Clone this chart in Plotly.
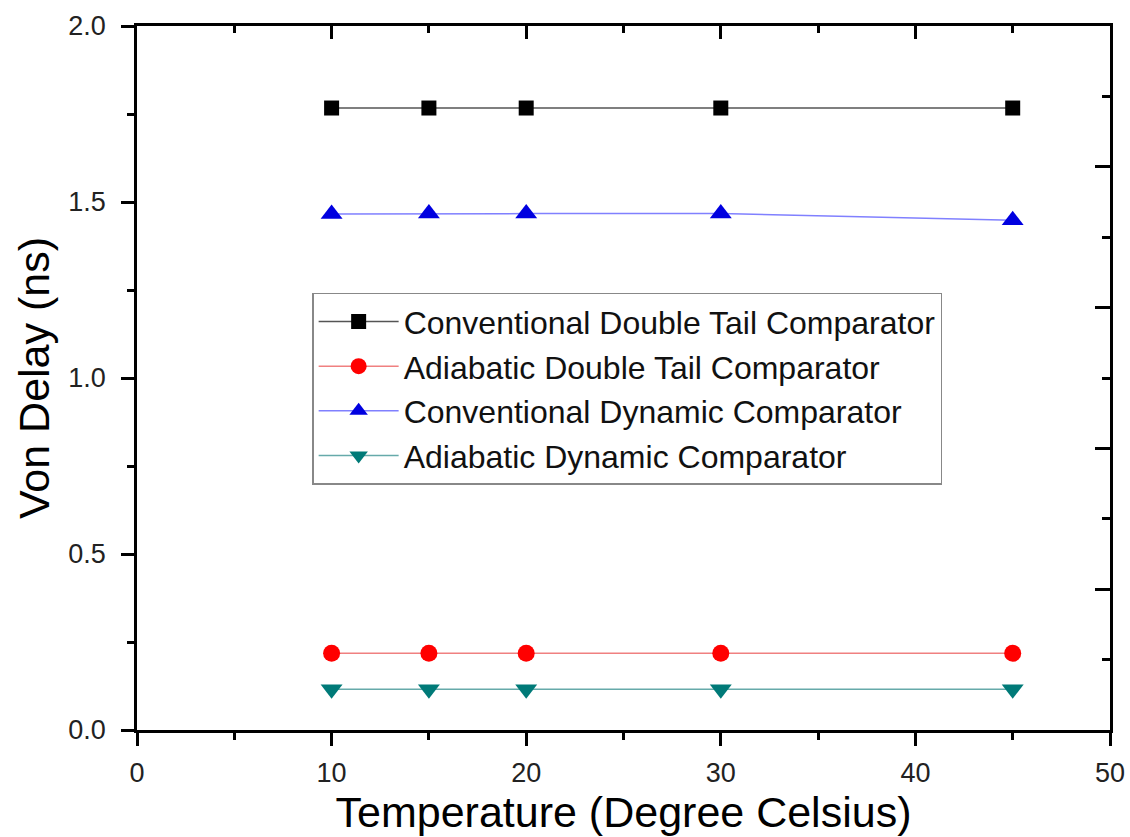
import plotly.graph_objects as go

temps = [10, 15, 20, 30, 45]
conv_double_tail = [1.767, 1.767, 1.767, 1.767, 1.767]
adia_double_tail = [0.218, 0.218, 0.218, 0.218, 0.218]
conv_dynamic = [1.466, 1.467, 1.467, 1.467, 1.448]
adia_dynamic = [0.116, 0.116, 0.116, 0.116, 0.116]

series_names = ["Conventional Double Tail Comparator",
                "Adiabatic Double Tail Comparator",
                "Conventional Dynamic Comparator",
                "Adiabatic Dynamic Comparator"]

FONT = "Liberation Sans, Arial, sans-serif"

fig = go.Figure()
fig.add_trace(go.Scatter(x=temps, y=conv_double_tail, name=series_names[0], mode="lines+markers",
                         line=dict(color="#555555", width=1.5),
                         marker=dict(symbol="square", size=15, color="black")))
fig.add_trace(go.Scatter(x=temps, y=adia_double_tail, name=series_names[1], mode="lines+markers",
                         line=dict(color="#f08080", width=1.5),
                         marker=dict(symbol="circle", size=17, color="red")))
fig.add_trace(go.Scatter(x=temps, y=conv_dynamic, name=series_names[2], mode="lines+markers",
                         line=dict(color="#8080ff", width=1.5),
                         marker=dict(symbol="triangle-up", size=19, color="#0000e0")))
fig.add_trace(go.Scatter(x=temps, y=adia_dynamic, name=series_names[3], mode="lines+markers",
                         line=dict(color="#66aaaa", width=1.5),
                         marker=dict(symbol="triangle-down", size=19, color="#007a78")))
# dummy trace to show mirrored top/right axes with inward ticks
fig.add_trace(go.Scatter(x=[None], y=[None], xaxis="x2", yaxis="y2", showlegend=False, hoverinfo="skip"))

fig.update_layout(
    width=1130, height=837,
    margin=dict(l=137, r=20, t=26, b=107, autoexpand=False),
    paper_bgcolor="white", plot_bgcolor="white",
    font=dict(family=FONT, color="black"),
    showlegend=True,
    legend=dict(x=0.18, y=0.621, xanchor="left", yanchor="top",
                bordercolor="#888888", borderwidth=1.5, bgcolor="white",
                font=dict(size=32, family=FONT, color="#111111"),
                tracegroupgap=0, itemsizing="trace", itemwidth=80),
    xaxis=dict(range=[0, 50], tickmode="linear", tick0=0, dtick=10, automargin=False,
               ticks="outside", ticklen=13, tickwidth=2.5, tickcolor="black",
               minor=dict(dtick=5, ticks="outside", ticklen=7, tickwidth=2.5, tickcolor="black"),
               showline=True, linewidth=2.5, linecolor="black", showgrid=False, zeroline=False,
               tickfont=dict(size=27, family=FONT, color="#222222"), ticklabelstandoff=4,
               title=dict(text="Temperature (Degree Celsius)", font=dict(size=43, family=FONT, color="black"),
                          standoff=8)),
    yaxis=dict(range=[0, 2.0], tickmode="linear", tick0=0, dtick=0.5, tickformat=".1f", automargin=False,
               ticks="outside", ticklen=13, tickwidth=2.5, tickcolor="black",
               minor=dict(dtick=0.25, ticks="outside", ticklen=7, tickwidth=2.5, tickcolor="black"),
               showline=True, linewidth=2.5, linecolor="black", showgrid=False, zeroline=False,
               tickfont=dict(size=27, family=FONT, color="#222222"), ticklabelstandoff=10,
               title=dict(text="Von Delay (ns)", font=dict(size=43, family=FONT, color="black"),
                          standoff=6)),
    xaxis2=dict(range=[0, 50], overlaying="x", side="top", anchor="y2", automargin=False,
                tickmode="linear", tick0=0, dtick=10,
                ticks="inside", ticklen=13, tickwidth=2.5, tickcolor="black",
                minor=dict(dtick=5, ticks="inside", ticklen=7, tickwidth=2.5, tickcolor="black"),
                showticklabels=False, showline=True, linewidth=2.5, linecolor="black",
                showgrid=False, zeroline=False),
    yaxis2=dict(range=[0, 2.0], overlaying="y", side="right", anchor="x2", automargin=False,
                tickmode="linear", tick0=0, dtick=0.4,
                ticks="inside", ticklen=15, tickwidth=2.5, tickcolor="black",
                minor=dict(dtick=0.2, ticks="inside", ticklen=8, tickwidth=2.5, tickcolor="black"),
                showticklabels=False, showline=True, linewidth=2.5, linecolor="black",
                showgrid=False, zeroline=False),
)

fig.write_html("out.html")
